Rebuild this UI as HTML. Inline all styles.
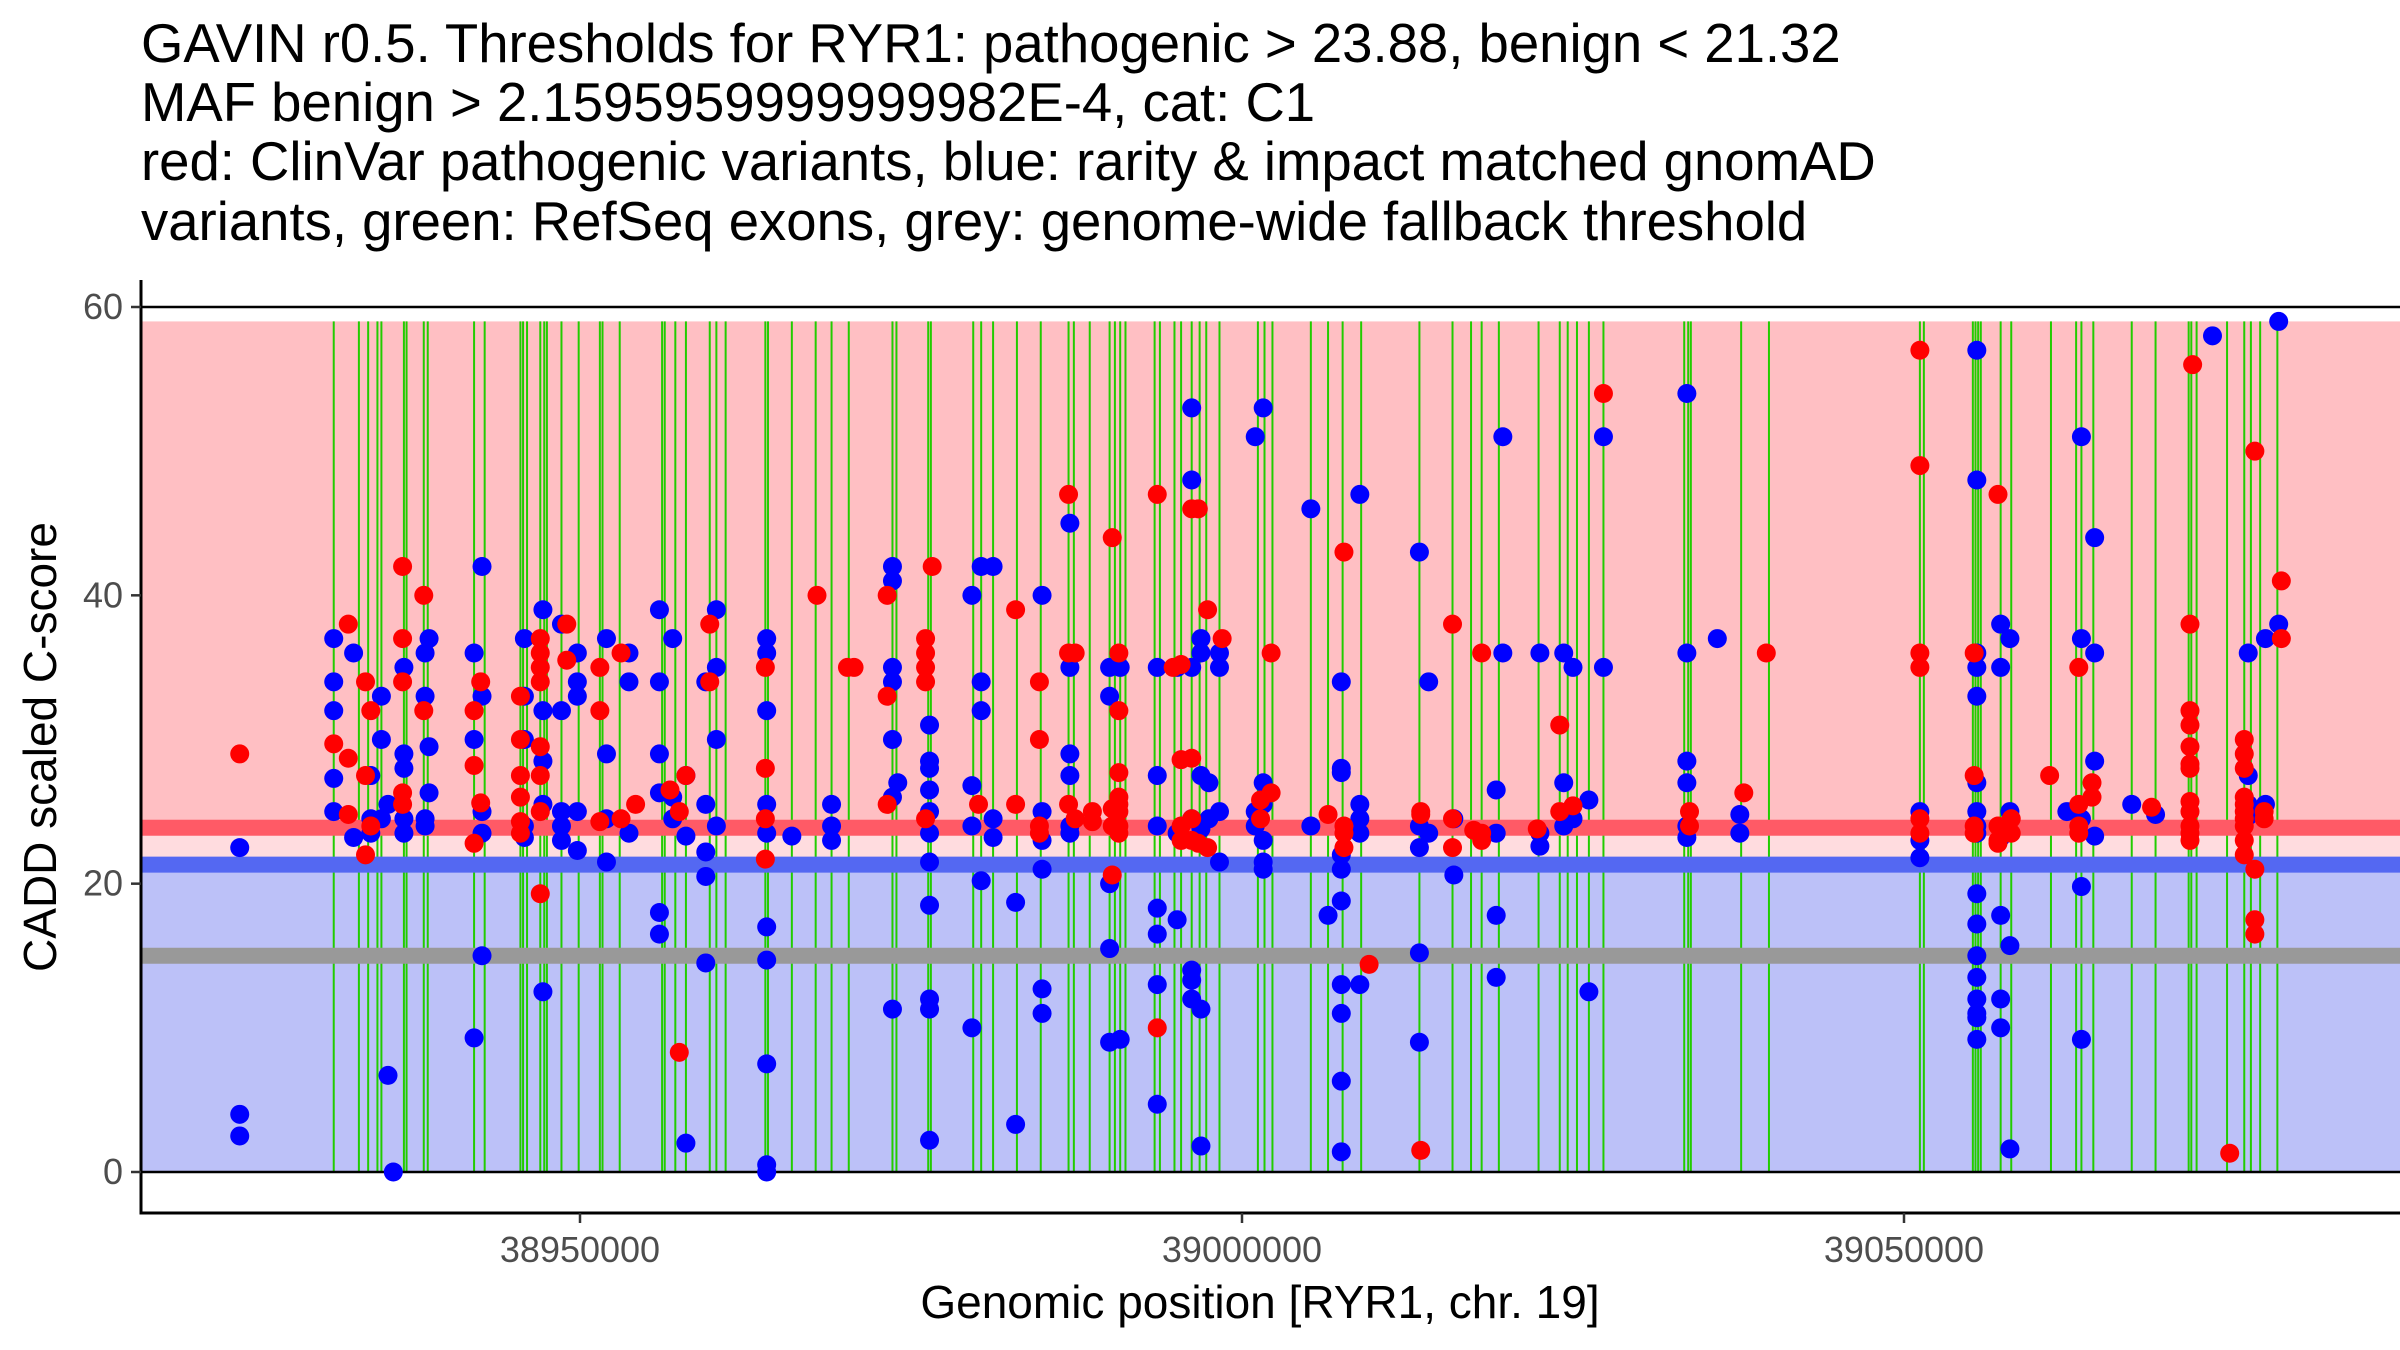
<!DOCTYPE html>
<html><head><meta charset="utf-8"><style>
body{margin:0;background:#fff}
svg{display:block;font-family:"Liberation Sans",sans-serif}
</style></head><body>
<svg id="chart" width="2400" height="1350" viewBox="0 0 2400 1350">
<g font-size="54.5" fill="#000">
<text x="141" y="62">GAVIN r0.5. Thresholds for RYR1: pathogenic &gt; 23.88, benign &lt; 21.32</text>
<text x="141" y="121">MAF benign &gt; 2.1595959999999982E-4, cat: C1</text>
<text x="141" y="180">red: ClinVar pathogenic variants, blue: rarity &amp; impact matched gnomAD</text>
<text x="141" y="240">variants, green: RefSeq exons, grey: genome-wide fallback threshold</text>
</g>
<g id="bg"></g>
<g id="exons"></g>
<g id="hl"></g>
<g id="pts"></g>
<g id="axes"></g>
</svg>
<script>
const yTicks=[0,20,40,60];
const xTicks=[38950000,39000000,39050000];
const thrPath=23.88, thrBenign=21.32, thrFallback=15, yMax=59;
const exonKb=[31.4,33.3,34.0,34.7,35.0,36.7,36.9,38.2,38.5,42.0,42.8,45.5,45.7,46.0,47.0,47.3,47.5,48.6,49.9,51.5,51.7,53.0,56.2,56.4,57.2,58.0,59.8,60.3,61.0,64.0,64.2,66.0,67.8,69.0,70.3,73.6,73.9,76.3,76.5,79.7,80.3,81.2,83.0,84.8,86.9,87.3,88.5,90.0,90.4,90.8,91.2,93.4,93.8,94.9,95.4,96.2,96.8,97.3,98.3,101.2,101.7,102.3,105.2,106.5,107.6,109.0,113.4,115.9,117.3,118.1,119.4,122.4,124.0,124.6,125.3,126.2,127.3,133.4,133.7,133.9,137.7,139.8,151.2,151.5,155.2,155.4,155.6,155.8,157.3,158.1,161.1,163.0,163.4,164.3,167.2,169.0,171.5,171.7,172.1,174.4,175.7,176.2,176.9,178.2];
const blueGroups=[[24.3,[22.5,4,2.5]],[31.4,[37,34,32,27.3,25]],[32.9,[36,23.2]],[34.2,[27.5,24.5,23.5]],[35.0,[30,33,24.5]],[35.5,[6.7,25.5]],[35.9,[0]],[36.7,[35,29,28,24.5,23.5]],[38.3,[36,33,24.5,24]],[38.6,[37,29.5,26.3]],[42.0,[36,30,9.3]],[42.6,[33,25,23.5,15,42]],[45.8,[33,24,23.2,37,30]],[47.2,[39,32,28.5,25.5,12.5]],[48.6,[38,32,25,23,24]],[49.8,[36,34,33,25,22.3]],[52.0,[37,29,24.5,21.5]],[53.7,[36,34,23.5]],[56.0,[39,34,29,26.3,18,16.5]],[57.0,[37,24.5,26]],[58.0,[27.5,23.3,2]],[59.5,[34,22.2,20.5,14.5,25.5]],[60.3,[39,35,30,24]],[64.1,[37,36,32,25.5,23.5,17,14.7,7.5,0.5,0]],[66.0,[23.3]],[69.0,[25.5,24,23]],[73.6,[42,41,35,34,30,26,11.3]],[74.0,[27]],[76.4,[31,28.5,28,26.5,25,23.5,21.5,18.5,12,11.3,2.2]],[79.6,[40,26.8,24,10]],[80.3,[42,34,32,20.2]],[81.2,[42,24.5,23.2]],[82.9,[18.7,3.3]],[84.9,[40,25,23,21,12.7,11]],[87.0,[45,35,29,27.5,24,23.5]],[90.0,[35,33,20,15.5,9]],[90.8,[35,9.2]],[93.6,[35,27.5,24,18.3,16.5,13,4.7]],[95.1,[35,23.5,17.5]],[96.2,[48,53,35,24.5,14,13.3,12]],[96.9,[37,36,27.5,23.8,11.3,1.8]],[97.5,[27,24.5]],[98.3,[36,35,21.5,25]],[101.0,[51,24,25]],[101.6,[53,27,25.5,23,21.5,21]],[105.2,[46,24]],[106.5,[17.8]],[107.5,[28,34,27.7,22,21,18.8,13,11,6.3,1.4]],[108.9,[47,25.5,24.5,23.5,13]],[113.4,[43,24,22.5,15.2,9]],[114.1,[34,23.5]],[116.0,[24.5,20.6]],[119.2,[26.5,23.5,17.8,13.5]],[119.7,[51,36]],[122.5,[36,23.5,22.6]],[124.3,[36,24,27]],[125.0,[35,24.5]],[126.2,[25.8,12.5]],[127.3,[51,35]],[133.6,[54,36,28.5,27,24,23.2]],[135.9,[37]],[137.6,[24.8,23.5]],[151.2,[25,23,21.8]],[155.5,[57,48,36,35,33,27,25,24,23.5,19.3,17.2,15,13.5,12,11,10.7,9.2]],[157.3,[38,35,23.2,17.8,12,10]],[158.0,[37,25,15.7,1.6]],[162.3,[25]],[163.4,[51,37,24.5,19.8,9.2]],[164.4,[44,36,28.5,23.3]],[167.2,[25.5]],[169.0,[24.8]],[173.3,[58]],[176.0,[36,27.5,25.5,24.7]],[177.3,[37,25.5]],[178.3,[59,38]]];
const redGroups=[[24.3,[29]],[31.4,[29.7]],[32.5,[38,28.7,24.8]],[33.8,[34,27.5,22]],[34.2,[32,24]],[36.6,[42,37,34,26.3,25.5]],[38.2,[40,32]],[42.0,[32,28.2,22.8]],[42.5,[34,25.6]],[45.5,[33,30,27.5,26,24.3,23.5]],[47.0,[37,36,35,34,29.5,27.5,25,19.3]],[49.0,[38,35.5]],[51.5,[35,32,24.3]],[53.1,[36,24.5]],[54.2,[25.5]],[56.8,[26.5]],[57.5,[25,8.3]],[58.0,[27.5]],[59.8,[38,34]],[64.0,[35,28,24.5,21.7]],[67.9,[40]],[70.2,[35]],[70.7,[35]],[73.2,[40,33,25.5]],[76.1,[37,36,35,34,24.5]],[76.6,[42]],[80.1,[25.5]],[82.9,[39,25.5]],[84.7,[34,30,24,23.5]],[86.9,[47,36,25.5]],[87.4,[36,24.5]],[88.7,[25,24.3]],[90.2,[44,25.2,24,20.6]],[90.7,[36,32,27.7,26,25.5,25,24,23.5]],[93.6,[47,10]],[94.8,[35]],[95.4,[35.2,28.6,24,23]],[96.2,[46,28.7,24.5,23]],[96.7,[46,22.8]],[97.4,[39,22.5]],[98.5,[37]],[101.4,[25.8,24.5]],[102.2,[36,26.3]],[106.5,[24.8]],[107.7,[43,24,23.5,22.5]],[109.6,[14.4]],[113.5,[25,24.8,1.5]],[115.9,[38,24.5,22.5]],[117.5,[23.7]],[118.1,[36,23.5,23]],[122.3,[23.8]],[124.0,[31,25]],[125.0,[25.4]],[127.3,[54]],[133.8,[25,24]],[137.9,[26.3]],[139.6,[36]],[151.2,[57,49,36,35,24.5,23.5]],[155.3,[36,27.5,24,23.5]],[157.1,[47,24,23,22.8]],[158.1,[24.5,23.5]],[161.0,[27.5]],[163.2,[35,25.5,24,23.5]],[164.2,[27,26]],[168.7,[25.3]],[171.6,[38,32,31,29.5,28.3,28,25.7,25,24,23.5,23]],[171.8,[56]],[174.6,[1.3]],[175.7,[30,29,28,26,25.5,25,24.5,24,23,22]],[176.5,[50,21,17.5,16.5]],[177.2,[25,24.5]],[178.5,[41,37]]];

const NS="http://www.w3.org/2000/svg";
const X0=141,X1=2400;
function xs(p){return 1242+(p-39000000)/50000*662;}
function ys(v){return 1172-v*(865/60);}
function kb(k){return 38900000+k*1000;}
function mk(parent,tag,attrs){const e=document.createElementNS(NS,tag);for(const k in attrs)e.setAttribute(k,attrs[k]);parent.appendChild(e);return e;}
const bg=document.getElementById('bg');
let r;
r=mk(bg,'rect',{x:X0,y:ys(yMax),width:X1-X0,height:ys(thrPath)-ys(yMax),fill:'#ffbfc3'});


r=mk(bg,'rect',{x:X0,y:ys(thrPath),width:X1-X0,height:ys(thrBenign)-ys(thrPath),fill:'#ffdcdf'});


r=mk(bg,'rect',{x:X0,y:ys(thrBenign),width:X1-X0,height:ys(0)-ys(thrBenign),fill:'#bcc1f8'});


const ex=document.getElementById('exons');
exonKb.forEach(k=>{const l=mk(ex,'line',{x1:xs(kb(k)),x2:xs(kb(k)),y1:ys(yMax),y2:ys(0),stroke:'#22cc00','stroke-width':2});

});
const hl=document.getElementById('hl');
r=mk(hl,'rect',{x:X0,y:ys(thrPath)-8,width:X1-X0,height:16,fill:'#ff5a66'});


r=mk(hl,'rect',{x:X0,y:ys(thrBenign)-8,width:X1-X0,height:16,fill:'#5468f2'});


r=mk(hl,'rect',{x:X0,y:ys(thrFallback)-8,width:X1-X0,height:16,fill:'#999999'});


[0,60].forEach(v=>{const l=mk(hl,'line',{x1:X0,x2:X1,y1:ys(v),y2:ys(v),stroke:'#000','stroke-width':2.5});

});
const pts=document.getElementById('pts');
function drawGroups(groups,color,name){groups.forEach(g=>{g[1].forEach(v=>{const c=mk(pts,'circle',{cx:xs(kb(g[0])),cy:ys(v),r:9.5,fill:color});

});});}
drawGroups(blueGroups,'#0000ff','gnomad-variant-point');
drawGroups(redGroups,'#ff0000','clinvar-variant-point');
const ax=document.getElementById('axes');
let a=mk(ax,'line',{x1:X0,x2:X0,y1:280,y2:1214,stroke:'#000','stroke-width':3});


a=mk(ax,'line',{x1:X0-1.5,x2:X1,y1:1213,y2:1213,stroke:'#000','stroke-width':3});


yTicks.forEach(v=>{mk(ax,'line',{x1:X0-10,x2:X0,y1:ys(v),y2:ys(v),stroke:'#333','stroke-width':2.5});
const t=mk(ax,'text',{x:X0-18,y:ys(v)+12,'text-anchor':'end','font-size':36,fill:'#4d4d4d'});t.textContent=v;

});
xTicks.forEach(v=>{mk(ax,'line',{x1:xs(v),x2:xs(v),y1:1213,y2:1223,stroke:'#333','stroke-width':2.5});
const t=mk(ax,'text',{x:xs(v),y:1262,'text-anchor':'middle','font-size':36,fill:'#4d4d4d'});t.textContent=v;

});
let t=mk(ax,'text',{x:1260,y:1318,'text-anchor':'middle','font-size':46,fill:'#000'});t.textContent='Genomic position [RYR1, chr. 19]';


t=mk(ax,'text',{x:0,y:0,'text-anchor':'middle','font-size':46,fill:'#000',transform:'translate(56,747) rotate(-90)'});t.textContent='CADD scaled C-score';


</script>
</body></html>
